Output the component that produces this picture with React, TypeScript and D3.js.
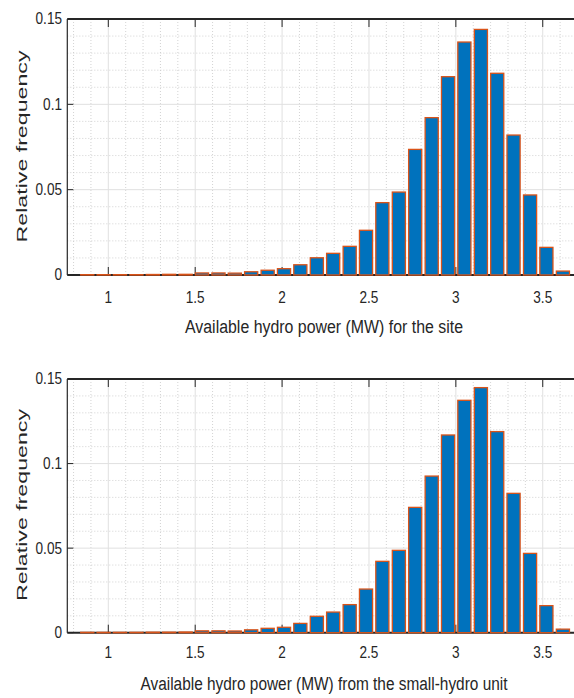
import React from "react";
import * as d3 from "d3";

// ---- data ----
const binCenters = [
  0.879, 0.973, 1.067, 1.162, 1.256, 1.350, 1.445, 1.539, 1.634, 1.728,
  1.822, 1.917, 2.011, 2.105, 2.200, 2.294, 2.389, 2.483, 2.577, 2.672,
  2.766, 2.861, 2.955, 3.049, 3.144, 3.238, 3.332, 3.427, 3.521, 3.616,
];
const binWidth = 0.0944;
const siteFreq = [
  0.0002, 0.0002, 0.0002, 0.0002, 0.0003, 0.0004, 0.0004, 0.0012, 0.0012, 0.0011,
  0.0019, 0.0028, 0.0037, 0.0060, 0.0101, 0.0127, 0.0168, 0.0262, 0.0424, 0.0486,
  0.0736, 0.0922, 0.1162, 0.1365, 0.1439, 0.1182, 0.0820, 0.0469, 0.0162, 0.0023,
];
const unitFreq = [
  0.0002, 0.0002, 0.0002, 0.0002, 0.0003, 0.0003, 0.0004, 0.0011, 0.0011, 0.0010,
  0.0017, 0.0026, 0.0032, 0.0055, 0.0097, 0.0122, 0.0166, 0.0258, 0.0422, 0.0487,
  0.0741, 0.0926, 0.1169, 0.1374, 0.1449, 0.1189, 0.0824, 0.0469, 0.0160, 0.0021,
];
const xTicks = [1, 1.5, 2, 2.5, 3, 3.5];
const xTickLabels = ["1", "1.5", "2", "2.5", "3", "3.5"];
const yTicks = [0, 0.05, 0.1, 0.15];
const yTickLabels = ["0", "0.05", "0.1", "0.15"];
const xLabelSite = "Available hydro power (MW) for the site";
const xLabelUnit = "Available hydro power (MW) from the small-hydro unit";
const yLabel = "Relative frequency";

// ---- layout ----
const W = 574;
const H = 698;
const X0 = 67.3;
const X1 = 577.5;
const xDomain: [number, number] = [0.764, 3.7];
const yDomain: [number, number] = [0, 0.15];
const FONT = "'Liberation Sans', Arial, Helvetica, sans-serif";
const TXT = "#262626";

type PanelProps = {
  values: number[];
  top: number;
  bottom: number;
  xTickY: number;
  xLabelY: number;
  xLabelLen: number;
  yLabelCy: number;
  xLabel: string;
};

function Panel({ values, top, bottom, xTickY, xLabelY, xLabelLen, yLabelCy, xLabel }: PanelProps) {
  const x = d3.scaleLinear().domain(xDomain).range([X0, X1]);
  const y = d3.scaleLinear().domain(yDomain).range([bottom, top]);
  const minorX = d3.range(0.8, 3.71, 0.1).filter((v) => !xTicks.some((t) => Math.abs(t - v) < 1e-6));
  const minorY = d3.range(0.01, 0.15, 0.01).filter((v) => !yTicks.some((t) => Math.abs(t - v) < 1e-6));
  const bw = (x(binWidth) - x(0)) * 0.8;
  return (
    <g>
      {/* minor grid */}
      {minorX.map((v, i) => (
        <line key={"mx" + i} x1={x(v)} x2={x(v)} y1={top} y2={bottom} stroke="#c8c8c8" strokeWidth={0.8} strokeDasharray="1,2" />
      ))}
      {minorY.map((v, i) => (
        <line key={"my" + i} x1={X0} x2={X1} y1={y(v)} y2={y(v)} stroke="#c8c8c8" strokeWidth={0.8} strokeDasharray="1,2" />
      ))}
      {/* major grid */}
      {xTicks.map((v, i) => (
        <line key={"gx" + i} x1={x(v)} x2={x(v)} y1={top} y2={bottom} stroke="#e0e0e0" strokeWidth={1} />
      ))}
      {yTicks.map((v, i) => (
        <line key={"gy" + i} x1={X0} x2={X1} y1={y(v)} y2={y(v)} stroke="#e0e0e0" strokeWidth={1} />
      ))}
      {/* axes box */}
      <line x1={X0} x2={X1} y1={top} y2={top} stroke={TXT} strokeWidth={2} />
      <line x1={X0} x2={X1} y1={bottom} y2={bottom} stroke={TXT} strokeWidth={2} />
      <line x1={X0} x2={X0} y1={top} y2={bottom} stroke={TXT} strokeWidth={1.2} />
      {/* ticks */}
      {xTicks.map((v, i) => (
        <g key={"tx" + i}>
          <line x1={x(v)} x2={x(v)} y1={bottom} y2={bottom - 8} stroke={TXT} strokeWidth={1} />
          <line x1={x(v)} x2={x(v)} y1={top} y2={top + 8} stroke={TXT} strokeWidth={1} />
        </g>
      ))}
      {yTicks.map((v, i) => (
        <line key={"ty" + i} x1={X0} x2={X0 + 6} y1={y(v)} y2={y(v)} stroke={TXT} strokeWidth={1} />
      ))}
      {/* bars */}
      {values.map((v, i) => (
        <rect
          key={"b" + i}
          x={x(binCenters[i]) - bw / 2}
          y={y(v)}
          width={bw}
          height={Math.max(0, y(0) - y(v))}
          fill="#0072BD"
          stroke="#D95319"
          strokeWidth={1.3}
        />
      ))}
      {/* tick labels */}
      {xTicks.map((v, i) => (
        <text
          key={"lx" + i}
          transform={`translate(${x(v)},${xTickY}) scale(0.8,1)`}
          textAnchor="middle"
          dominantBaseline="central"
          fontSize={17}
          fontFamily={FONT}
          fill={TXT}
        >
          {xTickLabels[i]}
        </text>
      ))}
      {yTicks.map((v, i) => (
        <text
          key={"ly" + i}
          transform={`translate(62,${y(v)}) scale(0.85,1)`}
          textAnchor="end"
          dominantBaseline="central"
          fontSize={16}
          fontFamily={FONT}
          fill={TXT}
        >
          {yTickLabels[i]}
        </text>
      ))}
      {/* axis labels */}
      <text
        x={324}
        y={xLabelY}
        textAnchor="middle"
        fontSize={18}
        fontFamily={FONT}
        fill={TXT}
        textLength={xLabelLen}
        lengthAdjust="spacingAndGlyphs"
      >
        {xLabel}
      </text>
      <text
        transform={`translate(27,${yLabelCy}) scale(0.85,1) rotate(-90)`}
        textAnchor="middle"
        fontSize={17}
        fontFamily={FONT}
        fill={TXT}
        textLength={192}
        lengthAdjust="spacingAndGlyphs"
      >
        {yLabel}
      </text>
    </g>
  );
}

export default function App() {
  return (
    <svg
      width={W}
      height={H}
      viewBox={`0 0 ${W} ${H}`}
      style={{ position: "absolute", left: 0, top: 0, background: "#fff", overflow: "hidden" }}
    >
      <rect x={0} y={0} width={W} height={H} fill="#fff" />
      <Panel values={siteFreq} top={19} bottom={275} xTickY={297} xLabelY={333} xLabelLen={278} yLabelCy={146.5} xLabel={xLabelSite} />
      <Panel values={unitFreq} top={379} bottom={632.7} xTickY={652} xLabelY={689.5} xLabelLen={367} yLabelCy={505} xLabel={xLabelUnit} />
    </svg>
  );
}
